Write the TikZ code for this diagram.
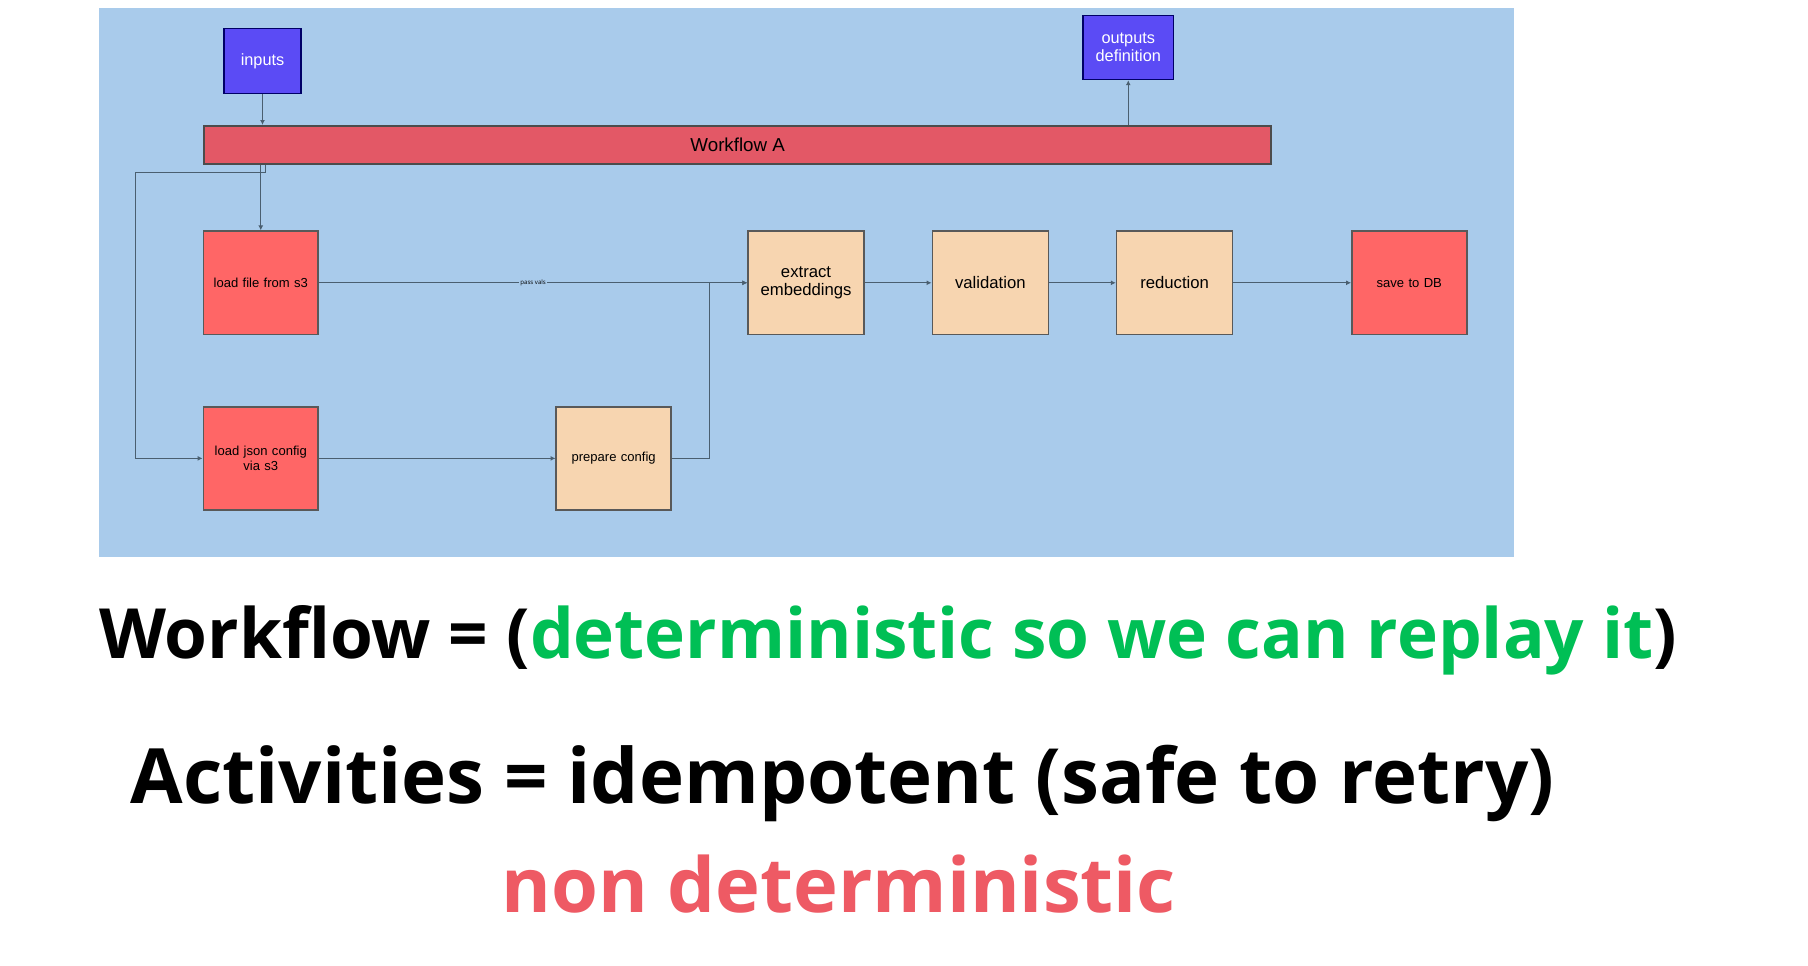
\documentclass[tikz,border=0pt]{standalone}
\usepackage{fontspec}
\setmainfont{Open Sans}
\newfontfamily\boxfont{Liberation Sans}
\usetikzlibrary{arrows.meta}
\definecolor{bgblue}{HTML}{A9CBEB}
\definecolor{barred}{HTML}{E35866}
\definecolor{boxred}{HTML}{FF6666}
\definecolor{peach}{HTML}{F7D5B0}
\definecolor{violet}{HTML}{5B4BF5}
\definecolor{okgreen}{HTML}{00BF55}
\definecolor{nored}{HTML}{EE5A64}
\definecolor{wire}{HTML}{4A5F70}
\tikzset{
  redbox/.style={draw=gray!70!black, line width=0.4pt, fill=boxred, inner sep=0pt, minimum width=0.99cm, minimum height=0.89cm, font=\boxfont\fontsize{3.2}{3.6}\selectfont, align=center, text width=0.95cm},
  peachbox/.style={draw=gray!70!black, line width=0.4pt, fill=peach, inner sep=0pt, minimum width=1cm, minimum height=0.89cm, font=\boxfont\fontsize{4.1}{4.5}\selectfont, align=center, text width=0.95cm},
  iobox/.style={draw=blue!40!black, line width=0.4pt, fill=violet, text=white, inner sep=0pt, font=\boxfont\fontsize{4}{4.5}\selectfont, align=center},
  link/.style={draw=wire, line width=0.3pt, -{Latex[length=1.2pt,width=1.2pt]}}
}
\begin{document}
\begin{tikzpicture}[x=0.01cm, y=-0.01cm]

% canvas and background
\useasboundingbox (0,0) rectangle (1560,833);
\fill[white] (0,0) rectangle (1560,833);
\fill[bgblue] (85,7) rectangle (1306,481);

% top boxes
\node[iobox, minimum width=0.66cm, minimum height=0.56cm] (inputs) at (226.5,52.5) {inputs};
\node[iobox, minimum width=0.78cm, minimum height=0.55cm] (outputs) at (973.5,41) {outputs\\definition};
\node[draw=gray!60!black, line width=0.4pt, inner sep=0pt, fill=barred, minimum width=9.2cm, minimum height=0.33cm, font=\boxfont\fontsize{4.6}{5}\selectfont] (wfa) at (636.5,125) {Workflow A};

% activities
\node[redbox] (loadfile) at (225,244) {load file from s3};
\node[peachbox] (extract) at (695.5,244) {extract\\embeddings};
\node[peachbox] (valid) at (854.5,244) {validation};
\node[peachbox] (reduce) at (1013.5,244) {reduction};
\node[redbox] (savedb) at (1216,244) {save to DB};
\node[redbox] (loadjson) at (225,395.5) {load json config\\via s3};
\node[redbox, fill=peach] (prepare) at (529.5,395.5) {prepare config};

% connectors
\draw[link] (inputs.south) -- (wfa.north -| inputs.south);
\draw[link] (wfa.north -| outputs.south) -- (outputs.south);
\draw[link] (wfa.south -| loadfile.north) -- (loadfile.north);
\draw[link] (wfa.south -| 229,0) -- (229,149) -- (117,149) -- (117,395.5) -- (loadjson.west);
\draw[link] (loadfile.east) -- node[font=\fontsize{1.5}{2}\selectfont, fill=bgblue, inner sep=0.3pt] {pass vals} (extract.west);
\draw[link] (loadjson.east) -- (prepare.west);
\draw[link] (prepare.east) -- (612,395.5) -- (612,244) -- (extract.west);
\draw[link] (extract.east) -- (valid.west);
\draw[link] (valid.east) -- (reduce.west);
\draw[link] (reduce.east) -- (savedb.west);

% captions
\node[anchor=base west, inner sep=0, font=\fontsize{17}{20}\selectfont\bfseries] (line1) at (85,568)
  {Workflow = (\textcolor{okgreen}{deterministic so we can replay it})};
\node[anchor=base west, inner sep=0, font=\fontsize{18.7}{22}\selectfont\bfseries] (line2) at (112,693)
  {Activities = idempotent (safe to retry)};
\node[anchor=base west, inner sep=0, font=\fontsize{18.6}{22}\selectfont\bfseries, text=nored] (line3) at (432,787)
  {non deterministic};

\end{tikzpicture}
\end{document}
